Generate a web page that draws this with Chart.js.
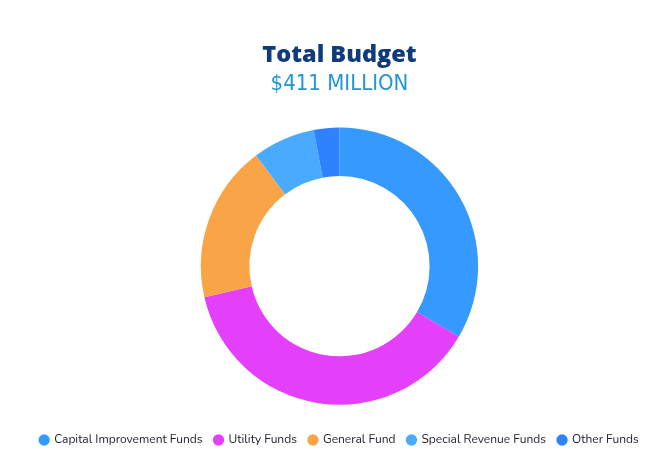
<!DOCTYPE html>
<html>
<head>
<meta charset="utf-8">
<script src="https://cdn.jsdelivr.net/npm/chart.js@4"></script>
<style>
  html, body { margin: 0; padding: 0; background: #ffffff; }
  #wrap { width: 667px; height: 456px; position: relative; }
</style>
</head>
<body>
<div id="wrap"><canvas id="c"></canvas></div>
<script>
const categories = ["Capital Improvement Funds", "Utility Funds", "General Fund", "Special Revenue Funds", "Other Funds"];
const budgetMillions = [137.7, 155.8, 75.2, 30.0, 12.3];
const sliceColors = ["#3599FE", "#E43FFA", "#F9A446", "#4AABFE", "#2F82FE"];
const titleText = "Total Budget";
const subtitleText = "$411 MILLION";

new Chart(document.getElementById("c"), {
  type: "doughnut",
  data: {
    labels: categories,
    datasets: [{
      data: budgetMillions,
      backgroundColor: sliceColors,
      borderWidth: 0,
      hoverOffset: 0
    }]
  },
  options: {
    responsive: true,
    maintainAspectRatio: false,
    animation: false,
    cutout: "65%",
    layout: { padding: { top: 0, bottom: 0, left: 12, right: 0 } },
    plugins: {
      title: {
        display: true,
        text: titleText,
        color: "#0D3B7C",
        font: { family: "'Open Sans'", size: 23.5, weight: "800" },
        padding: { top: 41, bottom: 2 }
      },
      subtitle: {
        display: true,
        text: subtitleText,
        color: "#2196D3",
        font: { family: "'DejaVu Sans Condensed'", size: 22, weight: "normal" },
        padding: { top: 0, bottom: 30 }
      },
      legend: {
        position: "bottom",
        title: { display: true, text: " ", font: { size: 1 }, padding: { top: 16, bottom: 0 } },
        labels: {
          usePointStyle: true,
          pointStyle: "circle",
          boxWidth: 8,
          boxHeight: 8,
          padding: 12,
          color: "#1d1d2c",
          font: { family: "Nunito, Lato", size: 12 }
        }
      },
      tooltip: { enabled: false }
    }
  }
});
</script>
</body>
</html>
